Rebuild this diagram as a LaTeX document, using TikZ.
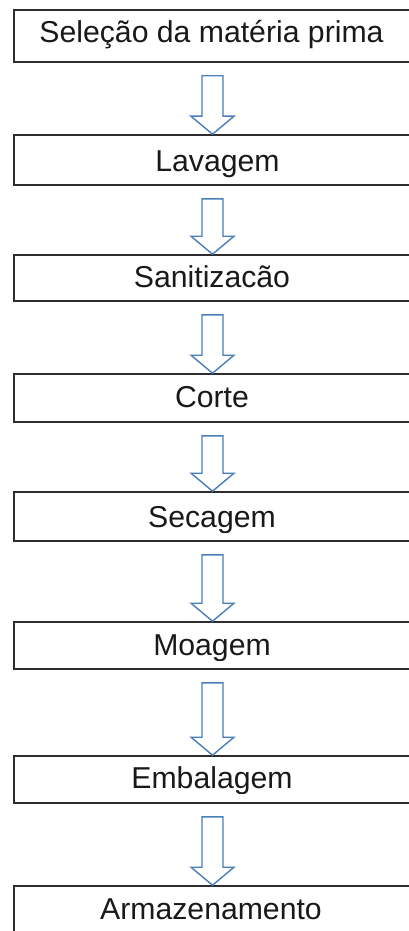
\documentclass[tikz,border=0pt]{standalone}
\usepackage{fontspec}
\setmainfont{Liberation Sans}
\usetikzlibrary{calc}
\definecolor{arrowblue}{RGB}{74,126,187}
\definecolor{boxline}{RGB}{45,45,45}
\tikzset{
  stepbox/.style={draw=boxline,line width=1.6pt,rectangle,inner sep=0pt,minimum width=396pt},
  lbl/.style={inner sep=0pt,text=black!90,font=\fontsize{30.2}{31}\selectfont},
  blockarrow/.style={draw=arrowblue,line width=1.4pt,fill=white,line join=miter}
}
\newcommand\steptext[4]{%
  \begin{scope}
    \clip (0,#3-45) rectangle (409,#3+5.5);
    \node[lbl,anchor=base] (#1) at (#2,#3) {#4};
  \end{scope}}
\newcommand\flowarrow[2]{%
  \draw[blockarrow] let \p1=($(#1.south)+(0.5,13)$), \p2=($(#2.north)+(0.5,0)$) in
    (\x1-10.5pt,\y1) -- (\x1+10.5pt,\y1) -- (\x1+10.5pt,\y2+18pt) -- (\x1+21.5pt,\y2+18pt)
    -- (\x2,\y2) -- (\x1-21.5pt,\y2+18pt) -- (\x1-10.5pt,\y2+18pt) -- cycle;}
\begin{document}
\begin{tikzpicture}[x=1pt,y=-1pt]
\useasboundingbox (0,0) rectangle (409,931);
\fill[white] (0,0) rectangle (409,931);
\clip (0,0) rectangle (409,931);
\node[stepbox,minimum height=52pt] (b1) at (212,36) {};
\node[stepbox,minimum height=50pt] (b2) at (212,160) {};
\node[stepbox,minimum height=46pt] (b3) at (212,278) {};
\node[stepbox,minimum height=48pt] (b4) at (212,398) {};
\node[stepbox,minimum height=49pt] (b5) at (212,516.5) {};
\node[stepbox,minimum height=47pt] (b6) at (212,645.5) {};
\node[stepbox,minimum height=47pt] (b7) at (212,779.5) {};
\node[stepbox,minimum height=64pt] (b8) at (212,918) {};
\steptext{t1}{211.5}{43}{Seleção da matéria prima}
\steptext{t2}{217.5}{171.5}{Lavagem}
\steptext{t3}{212}{287}{Sanitizacão}
\steptext{t4}{212}{407}{Corte}
\steptext{t5}{212}{527}{Secagem}
\steptext{t6}{212}{655}{Moagem}
\steptext{t7}{212}{788}{Embalagem}
\steptext{t8}{211}{919}{Armazenamento}
\flowarrow{b1}{b2}
\flowarrow{b2}{b3}
\flowarrow{b3}{b4}
\flowarrow{b4}{b5}
\flowarrow{b5}{b6}
\flowarrow{b6}{b7}
\flowarrow{b7}{b8}
\end{tikzpicture}
\end{document}
